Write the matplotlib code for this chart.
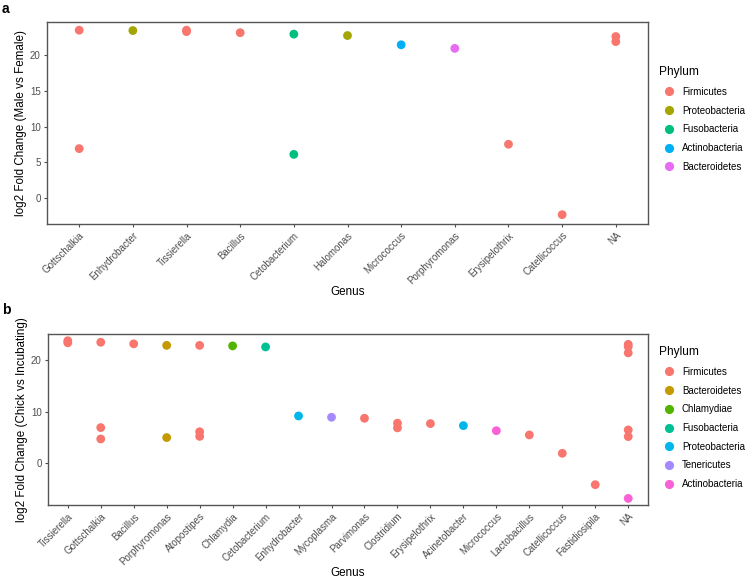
import numpy as np
import matplotlib
matplotlib.use("Agg")
import matplotlib.pyplot as plt
from matplotlib.lines import Line2D

plt.rcParams['font.family'] = ['Liberation Sans', 'DejaVu Sans']

# panel a: Male vs Female
genus_a = ["Gottschalkia", "Enhydrobacter", "Tissierella", "Bacillus", "Cetobacterium",
           "Halomonas", "Micrococcus", "Porphyromonas", "Erysipelothrix", "Catellicoccus", "NA"]
phyla_a = ["Firmicutes", "Proteobacteria", "Fusobacteria", "Actinobacteria", "Bacteroidetes"]
colors_a = ["#F8766D", "#A3A500", "#00BF7D", "#00B0F6", "#E76BF3"]
pt_genus_a = ["Gottschalkia", "Gottschalkia", "Enhydrobacter", "Tissierella", "Tissierella",
              "Bacillus", "Cetobacterium", "Cetobacterium", "Halomonas", "Micrococcus",
              "Porphyromonas", "Erysipelothrix", "Catellicoccus", "NA", "NA"]
pt_phylum_a = ["Firmicutes", "Firmicutes", "Proteobacteria", "Firmicutes", "Firmicutes",
               "Firmicutes", "Fusobacteria", "Fusobacteria", "Proteobacteria", "Actinobacteria",
               "Bacteroidetes", "Firmicutes", "Firmicutes", "Firmicutes", "Firmicutes"]
pt_lfc_a = [23.55, 6.93, 23.5, 23.55, 23.35, 23.2, 23.0, 6.12, 22.8, 21.5,
            21.0, 7.54, -2.34, 22.66, 21.95]

# panel b: Chick vs Incubating
genus_b = ["Tissierella", "Gottschalkia", "Bacillus", "Porphyromonas", "Atopostipes",
           "Chlamydia", "Cetobacterium", "Enhydrobacter", "Mycoplasma", "Parvimonas",
           "Clostridium", "Erysipelothrix", "Acinetobacter", "Micrococcus", "Lactobacillus",
           "Catellicoccus", "Fastidiosipila", "NA"]
phyla_b = ["Firmicutes", "Bacteroidetes", "Chlamydiae", "Fusobacteria", "Proteobacteria",
           "Tenericutes", "Actinobacteria"]
colors_b = ["#F8766D", "#C49A00", "#53B400", "#00C094", "#00B6EB", "#A58AFF", "#FB61D7"]
pt_genus_b = ["Tissierella", "Tissierella", "Gottschalkia", "Gottschalkia", "Gottschalkia",
              "Bacillus", "Porphyromonas", "Porphyromonas", "Atopostipes", "Atopostipes",
              "Atopostipes", "Chlamydia", "Cetobacterium", "Enhydrobacter", "Mycoplasma",
              "Parvimonas", "Clostridium", "Clostridium", "Erysipelothrix", "Acinetobacter",
              "Micrococcus", "Lactobacillus", "Catellicoccus", "Fastidiosipila",
              "NA", "NA", "NA", "NA", "NA", "NA"]
pt_phylum_b = ["Firmicutes", "Firmicutes", "Firmicutes", "Firmicutes", "Firmicutes",
               "Firmicutes", "Bacteroidetes", "Bacteroidetes", "Firmicutes", "Firmicutes",
               "Firmicutes", "Chlamydiae", "Fusobacteria", "Proteobacteria", "Tenericutes",
               "Firmicutes", "Firmicutes", "Firmicutes", "Firmicutes", "Proteobacteria",
               "Actinobacteria", "Firmicutes", "Firmicutes", "Firmicutes",
               "Firmicutes", "Firmicutes", "Firmicutes", "Firmicutes", "Firmicutes", "Actinobacteria"]
pt_lfc_b = [23.7, 23.3, 23.4, 6.9, 4.7, 23.1, 22.8, 4.97, 22.8, 6.1,
            5.2, 22.7, 22.5, 9.15, 8.9, 8.7, 7.75, 6.85, 7.67, 7.28,
            6.3, 5.48, 1.93, -4.14, 23.0, 22.55, 21.35, 6.45, 5.16, -6.8]


def panel(fig, rect, genus, phyla, colors, pg, pp, pv, ylim, yticks, ylabel, letter, leg_y, let_y):
    ax = fig.add_axes(rect)
    cmap = dict(zip(phyla, colors))
    xs = [genus.index(g) for g in pg]
    cs = [cmap[p] for p in pp]
    ax.scatter(xs, pv, c=cs, s=40, linewidths=0, zorder=3)
    ax.set_xlim(-0.6, len(genus) - 0.4)
    ax.set_ylim(*ylim)
    ax.set_yticks(yticks)
    ax.set_xticks(range(len(genus)))
    ax.set_xticklabels(genus, rotation=45, ha='right', va='top', rotation_mode='anchor')
    ax.tick_params(labelsize=7, colors='#4D4D4D', length=2.5, width=0.8, pad=2)
    for s in ax.spines.values():
        s.set_color('#555555')
        s.set_linewidth(1.0)
    ax.set_ylabel(ylabel, fontsize=8.4, labelpad=2)
    ax.set_xlabel("Genus", fontsize=8.4, labelpad=0.5)
    handles = [Line2D([], [], marker='o', linestyle='', markersize=6.6,
                      markerfacecolor=c, markeredgewidth=0) for c in colors]
    leg = ax.legend(handles, phyla, title="Phylum", loc='upper left',
                    bbox_to_anchor=(659 / 749, leg_y), bbox_transform=fig.transFigure,
                    frameon=False, fontsize=7, title_fontsize=8.6, labelspacing=0.9,
                    handletextpad=0.35, borderaxespad=0, borderpad=0, handlelength=2.0)
    leg._legend_box.align = "left"
    fig.text(2 / 749, let_y, letter, fontsize=10, fontweight='bold', va='top', ha='left')
    return ax


fig = plt.figure(figsize=(7.49, 5.79), dpi=100)

panel(fig, [47 / 749, 1 - 224 / 579, 601 / 749, 202 / 579], genus_a, phyla_a, colors_a,
      pt_genus_a, pt_phylum_a, pt_lfc_a, (-3.65, 24.7), [0, 5, 10, 15, 20],
      "log2 Fold Change (Male vs Female)", "a", 1 - 66 / 579, 1 - 2 / 579)

panel(fig, [48 / 749, 1 - 505 / 579, 600 / 749, 171 / 579], genus_b, phyla_b, colors_b,
      pt_genus_b, pt_phylum_b, pt_lfc_b, (-8.07, 25.0), [0, 10, 20],
      "log2 Fold Change (Chick vs Incubating)", "b", 1 - 346 / 579, 1 - 303 / 579)

fig.savefig("out.png", dpi=100)
